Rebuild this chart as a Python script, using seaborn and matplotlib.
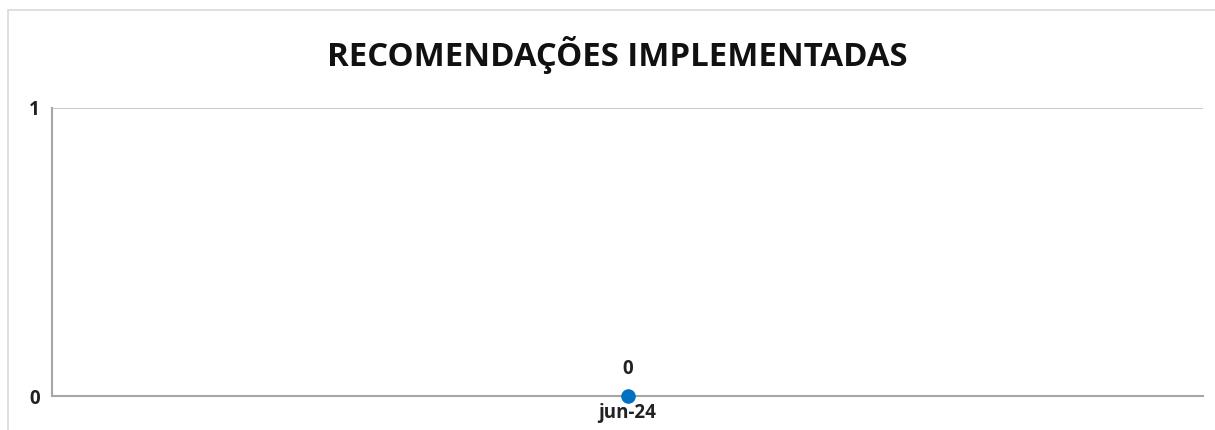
import matplotlib.pyplot as plt
import seaborn as sns
import pandas as pd
from matplotlib.patches import Rectangle

meses = ['jun-24']
implementadas = [0]

df = pd.DataFrame({'mes': meses, 'valor': implementadas})

sns.set_style('white')
plt.rcParams['font.family'] = ['Open Sans', 'DejaVu Sans']

fig = plt.figure(figsize=(12.15, 4.3), dpi=100)
ax = fig.add_axes([0.0428, 0.079, 0.9474, 0.670])

sns.lineplot(data=df, x='mes', y='valor', ax=ax, color='#0070C0',
             marker='o', markersize=10.5, markeredgewidth=0, sort=False,
             clip_on=False, zorder=5)

for i, v in enumerate(implementadas):
    ax.annotate(str(v), (i, v), xytext=(0, 12), textcoords='offset points',
                ha='center', va='bottom', fontsize=13.5, fontweight='bold',
                color='#222222')

ax.set_xlim(-0.5, 0.5)
ax.set_ylim(0, 1)
ax.set_yticks([0, 1])
ax.set_xlabel('')
ax.set_ylabel('')
ax.tick_params(axis='both', length=0, labelsize=13.5, colors='#222222')
ax.tick_params(axis='y', pad=9)
ax.tick_params(axis='x', pad=5)
for lab in ax.get_xticklabels() + ax.get_yticklabels():
    lab.set_fontweight('bold')

ax.yaxis.grid(True, color='#BFBFBF', linewidth=1.2)
ax.set_axisbelow(True)
for side in ['top', 'right']:
    ax.spines[side].set_visible(False)
for side in ['left', 'bottom']:
    ax.spines[side].set_color('#A6A6A6')
    ax.spines[side].set_linewidth(1.5)

fig.text(0.508, 0.872, 'RECOMENDAÇÕES IMPLEMENTADAS', ha='center', va='center',
         fontsize=23.7, fontweight='bold', color='#111111')

fig.patches.append(Rectangle((8 / 1215, -0.1), 1.1, 0.1 + (1 - 10 / 430),
                             transform=fig.transFigure, fill=False,
                             edgecolor='#D9D9D9', linewidth=1.2))

fig.savefig('out.png', dpi=100)
